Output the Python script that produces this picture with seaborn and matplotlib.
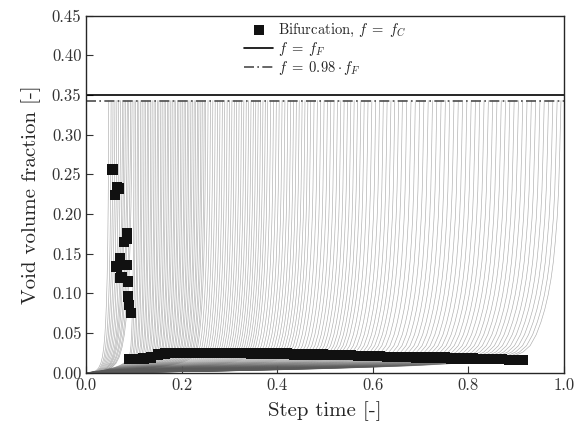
import numpy as np
import pandas as pd
import matplotlib
matplotlib.use("Agg")
import matplotlib.pyplot as plt
import seaborn as sns

# end time of each void growth curve (where it reaches 0.98 f_F)
curve_end = [
    0.047, 0.052, 0.056, 0.060, 0.064, 0.068, 0.072, 0.076, 0.079,
    0.082, 0.086, 0.089, 0.093, 0.096, 0.100, 0.103, 0.107, 0.110, 0.114,
    0.117, 0.121, 0.124, 0.128, 0.131, 0.135, 0.138, 0.142, 0.145, 0.149,
    0.152, 0.156, 0.159, 0.163, 0.166, 0.170, 0.173, 0.177, 0.180, 0.184,
    0.187, 0.191, 0.194, 0.198, 0.201, 0.205, 0.208, 0.212, 0.215, 0.219,
    0.222, 0.226, 0.229, 0.233, 0.236, 0.240, 0.243, 0.247, 0.250,
    0.255, 0.260, 0.265, 0.270, 0.275, 0.280, 0.285, 0.290, 0.295, 0.300,
    0.305, 0.310, 0.315, 0.320, 0.325, 0.330, 0.335, 0.340, 0.345, 0.350,
    0.355, 0.360, 0.365, 0.370, 0.375, 0.380, 0.386, 0.392, 0.398, 0.404,
    0.410, 0.416, 0.422, 0.428, 0.434, 0.440, 0.446, 0.452, 0.458, 0.464,
    0.470, 0.477, 0.484, 0.491, 0.498, 0.505, 0.512, 0.519, 0.526, 0.533,
    0.540, 0.547, 0.554, 0.561, 0.568, 0.575, 0.582, 0.590, 0.598, 0.606,
    0.614, 0.622, 0.630, 0.638, 0.646, 0.654, 0.662,
    0.671, 0.680, 0.689, 0.698, 0.707, 0.716, 0.725, 0.734, 0.743, 0.752,
    0.761, 0.770, 0.779, 0.788, 0.797, 0.806, 0.815, 0.824, 0.833, 0.842,
    0.851, 0.860, 0.869, 0.878, 0.887, 0.896, 0.905, 0.914, 0.923, 0.932,
    0.941, 0.950, 0.959, 0.968, 0.977, 0.986, 0.994,
]

# curve shape in normalised time (t / end time)
early_s = [0.0, 0.30, 0.45, 0.55, 0.65, 0.72, 0.78, 0.83, 0.87, 0.90, 0.93, 0.955, 0.975, 0.99, 1.0]
early_f = [0.0, 0.001, 0.003, 0.006, 0.012, 0.020, 0.032, 0.048, 0.068, 0.090, 0.120, 0.160, 0.210, 0.270, 0.343]
late_s = [0.0, 0.10, 0.20, 0.30, 0.40, 0.50, 0.60, 0.70, 0.76, 0.81, 0.85, 0.88, 0.90, 0.92,
          0.935, 0.948, 0.958, 0.966, 0.973, 0.979, 0.984, 0.988, 0.992, 0.995, 0.9975, 1.0]
late_f = [0.0, 0.0005, 0.0012, 0.0022, 0.0035, 0.0050, 0.0068, 0.0090, 0.0110, 0.0130, 0.0155,
          0.0180, 0.0205, 0.0260, 0.0340, 0.0480, 0.0640, 0.0800, 0.0980, 0.1180, 0.1400,
          0.1650, 0.1950, 0.2300, 0.2800, 0.3430]

# bifurcation points
bif_cluster_t = [0.055, 0.064, 0.060, 0.069, 0.085, 0.079, 0.085, 0.071, 0.063, 0.085,
                 0.070, 0.088, 0.074, 0.088, 0.090, 0.093]
bif_cluster_f = [0.256, 0.234, 0.224, 0.232, 0.176, 0.165, 0.169, 0.144, 0.134, 0.136,
                 0.119, 0.115, 0.121, 0.096, 0.085, 0.075]
bif_band_t = [0.090, 0.105, 0.120, 0.135, 0.150, 0.165, 0.180, 0.195, 0.210, 0.225,
              0.240, 0.255, 0.270, 0.285, 0.300, 0.315, 0.330, 0.345, 0.360, 0.375,
              0.390, 0.405, 0.420, 0.435, 0.450, 0.465, 0.480, 0.495, 0.510, 0.525,
              0.540, 0.555, 0.570, 0.585, 0.600, 0.615, 0.630, 0.645, 0.660, 0.675,
              0.690, 0.705, 0.720, 0.735, 0.750, 0.765, 0.780, 0.795, 0.810, 0.825,
              0.840, 0.855, 0.870, 0.885, 0.900, 0.915]
bif_band_f = [0.017, 0.017, 0.018, 0.019, 0.023, 0.024, 0.025, 0.025, 0.025, 0.025,
              0.025, 0.025, 0.025, 0.025, 0.025, 0.025, 0.025, 0.024, 0.024, 0.024,
              0.024, 0.024, 0.024, 0.023, 0.023, 0.023, 0.023, 0.023, 0.022, 0.022,
              0.022, 0.022, 0.021, 0.021, 0.021, 0.021, 0.020, 0.020, 0.020, 0.020,
              0.019, 0.019, 0.019, 0.019, 0.019, 0.018, 0.018, 0.018, 0.018, 0.017,
              0.017, 0.017, 0.017, 0.016, 0.016, 0.016]

f_F = 0.35
lab_bif = r"Bifurcation, $f\;=\;f_C$"
lab_ff = r"$f\;=\;f_F$"
lab_98 = r"$f\;=\;0.98\cdot f_F$"

sns.set_theme(style="ticks")
plt.rcParams["font.family"] = ["serif"]
plt.rcParams["font.serif"] = ["cmr10", "DejaVu Serif"]
plt.rcParams["mathtext.fontset"] = "cm"
plt.rcParams["axes.formatter.use_mathtext"] = True

rows = []
for i, T in enumerate(curve_end):
    s, f = (early_s, early_f) if T < 0.1 else (late_s, late_f)
    for si, fi in zip(s, f):
        rows.append({"curve": i, "t": si * T, "f": fi})
curves = pd.DataFrame(rows)

bif = pd.DataFrame({
    "t": bif_cluster_t + bif_band_t,
    "f": bif_cluster_f + bif_band_f,
})

fig = plt.figure(figsize=(5.85, 4.34), dpi=100)
ax = fig.add_axes([0.1475, 0.1413, 0.8163, 0.8227])

sns.lineplot(data=curves, x="t", y="f", units="curve", estimator=None, sort=False,
             color="0.35", lw=0.45, alpha=0.5, legend=False, ax=ax)
ax.axhline(f_F, color="black", lw=1.2, label=lab_ff)
ax.axhline(0.98 * f_F, color="0.3", lw=1.2, ls=(0, (6, 2, 1, 2)), label=lab_98)
sns.scatterplot(data=bif, x="t", y="f", marker="s", s=55, color="#111111",
                edgecolor="none", zorder=5, label=lab_bif, ax=ax)

handles, labels = ax.get_legend_handles_labels()
order = [labels.index(l) for l in [lab_bif, lab_ff, lab_98]]
ax.legend([handles[i] for i in order], [labels[i] for i in order], loc="upper center",
          frameon=False, fontsize=10.5, labelspacing=0.1, handlelength=2.0,
          handletextpad=0.3, borderaxespad=0.0)

ax.set_xlim(0, 1)
ax.set_ylim(0, 0.45)
ax.set_xticks(np.arange(0, 1.01, 0.2))
ax.set_yticks(np.arange(0, 0.451, 0.05))
ax.xaxis.set_major_formatter(matplotlib.ticker.FormatStrFormatter("%.1f"))
ax.yaxis.set_major_formatter(matplotlib.ticker.FormatStrFormatter("%.2f"))
ax.tick_params(direction="in", length=5, width=0.8, labelsize=12, colors="0.2")
for sp in ax.spines.values():
    sp.set_linewidth(1.0)
    sp.set_color("0.15")
ax.set_xlabel("Step time [-]", fontsize=15, labelpad=6)
ax.set_ylabel("Void volume fraction [-]", fontsize=15, labelpad=8)

fig.savefig("out.png", dpi=100)
